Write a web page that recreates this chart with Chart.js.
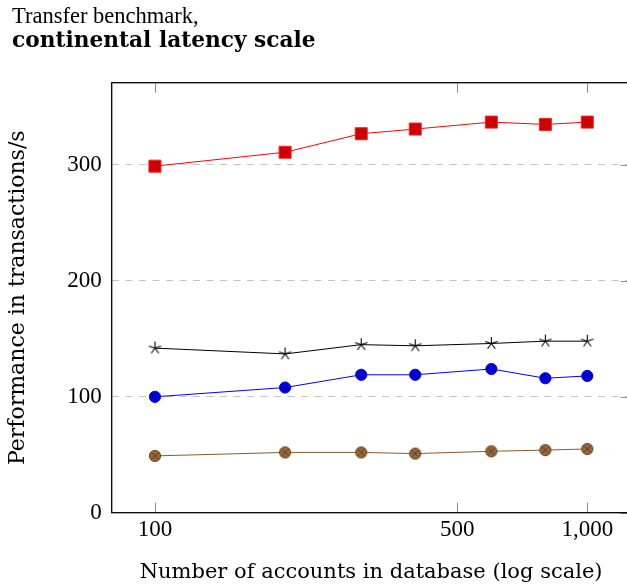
<!DOCTYPE html>
<html>
<head>
<meta charset="utf-8">
<script src="https://cdn.jsdelivr.net/npm/chart.js@4/dist/chart.umd.min.js"></script>
<style>
    html, body { margin: 0; padding: 0; background: #fff; overflow: hidden; }
    canvas { display: block; }
</style>
</head>
<body>
<canvas id="chartTransfer" width="640" height="587"></canvas>
<script>
const accounts = [100, 200, 300, 400, 600, 800, 1000];
const seriesRed = [299, 311, 327, 331, 337, 335, 337];
const seriesBlack = [142, 137, 145, 144, 146, 148, 148];
const seriesBlue = [100, 108, 119, 119, 124, 116, 118];
const seriesBrown = [49, 52, 52, 51, 53, 54, 55];
const xTicks = [100, 500, 1000];
const yTicks = [0, 100, 200, 300];

(function() {
    'use strict';

    const SERIF = "'Liberation Serif', serif";
    const WIDE = "'DejaVu Serif', serif";

    document.addEventListener('DOMContentLoaded', init);

    function init() {
        const ctx = document.getElementById('chartTransfer');
        if (!ctx) return;
        criarGrafico(ctx);
    }

    function pontos(valores) {
        return accounts.map((a, i) => ({ x: a, y: valores[i] }));
    }

    // asterisco de 5 pontas (mark=star do pgfplots)
    function marcaEstrela() {
        const c = document.createElement('canvas');
        c.width = c.height = 15;
        const g = c.getContext('2d');
        g.strokeStyle = '#000';
        g.lineWidth = 1.1;
        for (let k = 0; k < 5; k++) {
            const ang = (-90 + 72 * k) * Math.PI / 180;
            g.beginPath();
            g.moveTo(7.5, 7.5);
            g.lineTo(7.5 + 6.5 * Math.cos(ang), 7.5 + 6.5 * Math.sin(ang));
            g.stroke();
        }
        return c;
    }

    // circulo com x (mark=otimes*)
    function marcaOtimes() {
        const c = document.createElement('canvas');
        c.width = c.height = 14;
        const g = c.getContext('2d');
        const r = 5.6;
        g.beginPath();
        g.arc(7, 7, r, 0, Math.PI * 2);
        g.fillStyle = '#99663a';
        g.fill();
        g.strokeStyle = '#5e3b1a';
        g.lineWidth = 0.9;
        g.stroke();
        const d = r * Math.SQRT1_2;
        g.beginPath();
        g.moveTo(7 - d, 7 - d); g.lineTo(7 + d, 7 + d);
        g.moveTo(7 + d, 7 - d); g.lineTo(7 - d, 7 + d);
        g.stroke();
        return c;
    }

    const moldura = {
        id: 'moldura',
        beforeDatasetsDraw(chart) {
            const { ctx, chartArea: a, scales } = chart;
            ctx.save();
            ctx.strokeStyle = '#8c8c8c';
            ctx.lineWidth = 1;
            ctx.beginPath();
            xTicks.forEach(v => {
                const px = Math.round(scales.x.getPixelForValue(v)) + 0.5;
                ctx.moveTo(px, a.bottom); ctx.lineTo(px, a.bottom - 10);
                ctx.moveTo(px, a.top); ctx.lineTo(px, a.top + 10);
            });
            yTicks.forEach(v => {
                const py = Math.round(scales.y.getPixelForValue(v)) + 0.5;
                ctx.moveTo(a.right, py); ctx.lineTo(a.right - 10, py);
            });
            ctx.stroke();
            ctx.strokeStyle = '#000';
            ctx.lineWidth = 1.3;
            ctx.strokeRect(a.left, a.top, a.right - a.left, a.bottom - a.top);
            ctx.restore();
        }
    };

    function criarGrafico(ctx) {
        new Chart(ctx.getContext('2d'), {
            type: 'line',
            data: {
                datasets: [{
                    label: 'Red',
                    data: pontos(seriesRed),
                    borderColor: '#ff0000',
                    borderWidth: 1,
                    backgroundColor: '#cc0000',
                    pointStyle: 'rect',
                    pointRadius: 8.5,
                    pointBorderColor: '#ff2020',
                    pointBorderWidth: 1
                }, {
                    label: 'Black',
                    data: pontos(seriesBlack),
                    borderColor: '#000000',
                    borderWidth: 1,
                    pointStyle: marcaEstrela()
                }, {
                    label: 'Blue',
                    data: pontos(seriesBlue),
                    borderColor: '#0000ff',
                    borderWidth: 1,
                    backgroundColor: '#0000cc',
                    pointStyle: 'circle',
                    pointRadius: 5.6,
                    pointBorderColor: '#0000ff',
                    pointBorderWidth: 1
                }, {
                    label: 'Brown',
                    data: pontos(seriesBrown),
                    borderColor: '#8a5a2c',
                    borderWidth: 1,
                    pointStyle: marcaOtimes()
                }]
            },
            options: {
                responsive: false,
                animation: false,
                layout: {
                    padding: { left: 12, right: 2.5, top: 0, bottom: 0 }
                },
                plugins: {
                    legend: { display: false },
                    tooltip: { enabled: false },
                    title: {
                        display: true,
                        text: 'Transfer benchmark,',
                        align: 'start',
                        color: '#000',
                        font: { family: SERIF, size: 22.5, weight: 'normal', lineHeight: 1 },
                        padding: { top: 6, bottom: 0 }
                    },
                    subtitle: {
                        display: true,
                        text: 'continental latency scale',
                        align: 'start',
                        color: '#000',
                        font: { family: WIDE, size: 21.7, weight: 'bold', lineHeight: 1 },
                        padding: { top: 1.7, bottom: 30.8 }
                    }
                },
                scales: {
                    x: {
                        type: 'logarithmic',
                        min: 79.43,
                        max: 1258.9,
                        afterBuildTicks: function(axis) {
                            axis.ticks = xTicks.map(v => ({ value: v }));
                        },
                        afterFit: function(axis) {
                            axis.height = 74.3;
                        },
                        grid: { display: false, drawTicks: false },
                        border: { display: false },
                        ticks: {
                            color: '#000',
                            padding: 3,
                            autoSkip: false,
                            maxRotation: 0,
                            font: { family: SERIF, size: 23 },
                            callback: function(value) {
                                return Number(value).toLocaleString('en-US');
                            }
                        },
                        title: {
                            display: true,
                            text: 'Number of accounts in database (log scale)',
                            color: '#000',
                            font: { family: WIDE, size: 21 },
                            padding: { top: 0, bottom: 2 }
                        }
                    },
                    y: {
                        min: 0,
                        max: 371,
                        afterBuildTicks: function(axis) {
                            axis.ticks = yTicks.map(v => ({ value: v }));
                        },
                        afterFit: function(axis) {
                            axis.width = 99.7;
                        },
                        grid: {
                            color: '#c4c4c4',
                            lineWidth: 1,
                            drawTicks: false
                        },
                        border: { display: false, dash: [7, 6.5] },
                        ticks: {
                            color: '#000',
                            padding: 10,
                            font: { family: SERIF, size: 23 }
                        },
                        title: {
                            display: true,
                            text: 'Performance in transactions/s',
                            color: '#000',
                            font: { family: WIDE, size: 22, lineHeight: 0.55 },
                            padding: { top: 0, bottom: 0 }
                        }
                    }
                }
            },
            plugins: [moldura]
        });
    }

})();
</script>
</body>
</html>
